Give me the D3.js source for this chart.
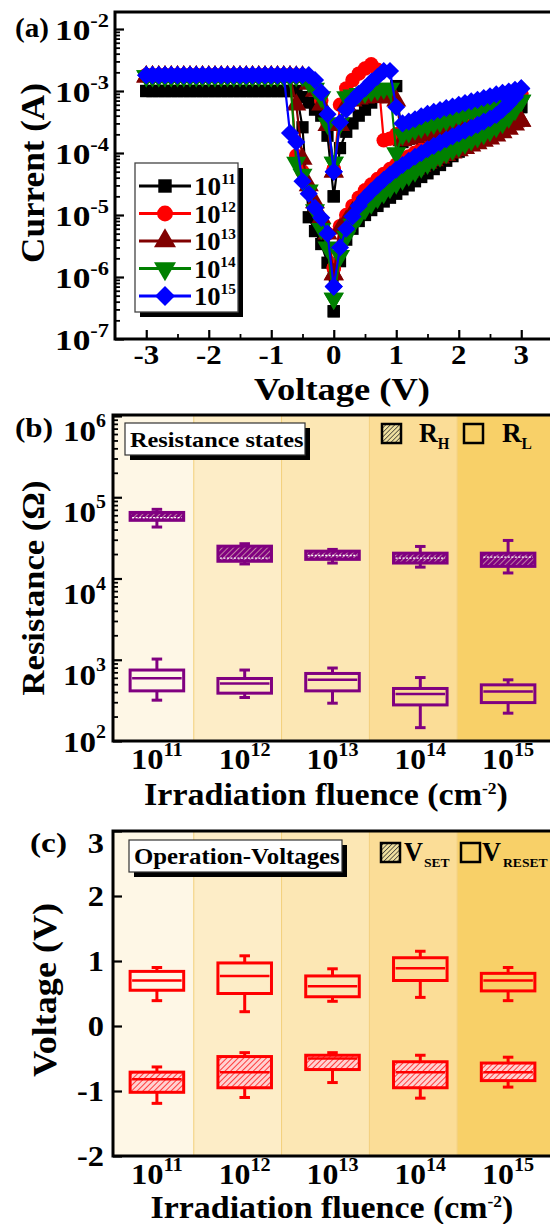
<!DOCTYPE html>
<html><head><meta charset="utf-8">
<script src="https://cdn.jsdelivr.net/npm/d3@7/dist/d3.min.js"></script>
<style>
body{margin:0;background:#fff;}
svg{display:block;font-family:"Liberation Serif","Times New Roman",serif;font-weight:bold;}
</style></head><body>
<svg id="c" width="550" height="1224"></svg>
<script>
// ---------------- Panel (a) data: I-V sweeps, |V| steps ----------------
const voltageSteps = [0,0.1,0.2,0.3,0.4,0.5,0.6,0.7,0.8,0.9,1.0,1.1,1.2,1.3,1.4,1.5,1.6,1.7,1.8,1.9,2.0,2.1,2.2,2.3,2.4,2.5,2.6,2.7,2.8,2.9,3.0];
const fluenceExp = ["11","12","13","14","15"];
const seriesColors = ["#000000","#ff0000","#800000","#008000","#0000ff"];
const seriesShapes = ["square","circle","triangle","triangleDown","diamond"];

// 1e11 (black)
const i11NegSet = [2.8e-7,1.7e-6,3.4e-6,5.5e-6,9.2e-6, 2.6e-4,1e-3,1e-3,1e-3,1e-3, 1e-3,1e-3,1e-3,1e-3,1e-3, 1e-3,1e-3,1e-3,1e-3,1e-3, 1e-3,1e-3,1e-3,1e-3,1e-3, 1e-3,1e-3,1e-3,1e-3,1e-3, 1e-3];
const i11NegRet = [2e-5,1.9e-4,4e-4,5e-4,6.5e-4, 8e-4,1e-3,1e-3,1e-3,1e-3, 1e-3,1e-3,1e-3,1e-3,1e-3, 1e-3,1e-3,1e-3,1e-3,1e-3, 1e-3,1e-3,1e-3,1e-3,1e-3, 1e-3,1e-3,1e-3,1e-3,1e-3, 1e-3];
const i11PosFwd = [2e-5,1.2e-4,2.2e-4,3e-4,4e-4, 5e-4,6.5e-4,8e-4,9e-4,1.05e-3, 1.2e-3,1.5e-4,1.7e-4,1.85e-4,2e-4, 2.2e-4,2.4e-4,2.55e-4,2.7e-4,2.85e-4, 3e-4,3.2e-4,3.45e-4,3.7e-4,3.95e-4, 4.2e-4,4.45e-4,4.7e-4,4.95e-4,5.2e-4, 5.5e-4];
const i11PosRet = [2.8e-7,1.8e-6,4e-6,6e-6,8e-6, 1e-5,1.2e-5,1.4e-5,1.65e-5,1.9e-5, 2.2e-5,2.6e-5,3e-5,3.5e-5,4.1e-5, 4.7e-5,5.5e-5,6.4e-5,7.5e-5,8.9e-5, 1.05e-4,1.24e-4,1.45e-4,1.7e-4,2e-4, 2.4e-4,2.8e-4,3.3e-4,3.9e-4,4.6e-4, 5.5e-4];
// 1e12 (red)
const i12NegSet = [1.4e-6,5e-6,8e-6,1.3e-5,2.5e-5, 5e-5,9e-5,1.8e-3,1.8e-3,1.8e-3, 1.8e-3,1.8e-3,1.8e-3,1.8e-3,1.8e-3, 1.8e-3,1.8e-3,1.8e-3,1.8e-3,1.8e-3, 1.8e-3,1.8e-3,1.8e-3,1.8e-3,1.8e-3, 1.8e-3,1.8e-3,1.8e-3,1.8e-3,1.8e-3, 1.8e-3];
const i12NegRet = [5.5e-5,3e-4,7e-4,1.1e-3,1.5e-3, 1.8e-3,1.8e-3,1.8e-3,1.8e-3,1.8e-3, 1.8e-3,1.8e-3,1.8e-3,1.8e-3,1.8e-3, 1.8e-3,1.8e-3,1.8e-3,1.8e-3,1.8e-3, 1.8e-3,1.8e-3,1.8e-3,1.8e-3,1.8e-3, 1.8e-3,1.8e-3,1.8e-3,1.8e-3,1.8e-3, 1.8e-3];
const i12PosFwd = [5.5e-5,6e-4,1.1e-3,1.5e-3,1.9e-3, 2.3e-3,2.7e-3,2.2e-3,1.6e-4,1.7e-4, 2e-4,2.3e-4,2.6e-4,2.9e-4,3.2e-4, 3.5e-4,3.9e-4,4.3e-4,4.7e-4,5.1e-4, 5.5e-4,5.9e-4,6.3e-4,6.7e-4,7.1e-4, 7.5e-4,7.8e-4,8.1e-4,8.4e-4,8.7e-4, 9e-4];
const i12PosRet = [1.4e-6,6.6e-6,1e-5,1.4e-5,1.9e-5, 2.5e-5,3.1e-5,3.8e-5,4.6e-5,5.5e-5, 6.5e-5,7.6e-5,8.8e-5,1.01e-4,1.15e-4, 1.3e-4,1.46e-4,1.63e-4,1.82e-4,2.02e-4, 2.25e-4,2.5e-4,2.8e-4,3.1e-4,3.45e-4, 3.85e-4,4.3e-4,5e-4,6e-4,7.3e-4, 9e-4];
// 1e13 (maroon)
const i13NegSet = [1.1e-6,5e-6,9e-6,1.6e-5,3e-5, 8e-5,6e-4,1.7e-3,1.7e-3,1.7e-3, 1.7e-3,1.7e-3,1.7e-3,1.7e-3,1.7e-3, 1.7e-3,1.7e-3,1.7e-3,1.7e-3,1.7e-3, 1.7e-3,1.7e-3,1.7e-3,1.7e-3,1.7e-3, 1.7e-3,1.7e-3,1.7e-3,1.7e-3,1.7e-3, 1.7e-3];
const i13NegRet = [5e-5,2.8e-4,6e-4,1e-3,1.3e-3, 1.7e-3,1.7e-3,1.7e-3,1.7e-3,1.7e-3, 1.7e-3,1.7e-3,1.7e-3,1.7e-3,1.7e-3, 1.7e-3,1.7e-3,1.7e-3,1.7e-3,1.7e-3, 1.7e-3,1.7e-3,1.7e-3,1.7e-3,1.7e-3, 1.7e-3,1.7e-3,1.7e-3,1.7e-3,1.7e-3, 1.7e-3];
const i13PosFwd = [5e-5,2.8e-4,6e-4,7e-4,7.5e-4, 7.8e-4,8e-4,8e-4,8e-4,7.8e-4, 7e-4,1.6e-4,1.7e-4,1.8e-4,1.9e-4, 2e-4,2.08e-4,2.16e-4,2.24e-4,2.32e-4, 2.4e-4,2.5e-4,2.6e-4,2.7e-4,2.8e-4, 2.9e-4,2.98e-4,3.06e-4,3.14e-4,3.22e-4, 3.3e-4];
const i13PosRet = [1.1e-6,6e-6,8e-6,1.1e-5,1.4e-5, 1.7e-5,2.1e-5,2.5e-5,2.9e-5,3.4e-5, 3.9e-5,4.4e-5,5e-5,5.6e-5,6.2e-5, 6.9e-5,7.6e-5,8.4e-5,9.2e-5,1.01e-4, 1.1e-4,1.2e-4,1.31e-4,1.43e-4,1.56e-4, 1.7e-4,1.9e-4,2.15e-4,2.45e-4,2.85e-4, 3.3e-4];
// 1e14 (green)
const i14NegSet = [4.5e-7,3e-6,6e-6,1.2e-5,2.5e-5, 4.5e-5,7e-5,1.75e-3,1.75e-3,1.75e-3, 1.75e-3,1.75e-3,1.75e-3,1.75e-3,1.75e-3, 1.75e-3,1.75e-3,1.75e-3,1.75e-3,1.75e-3, 1.75e-3,1.75e-3,1.75e-3,1.75e-3,1.75e-3, 1.75e-3,1.75e-3,1.75e-3,1.75e-3,1.75e-3, 1.75e-3];
const i14NegRet = [7e-5,3e-4,8e-4,1.1e-3,1.4e-3, 1.75e-3,1.75e-3,1.75e-3,1.75e-3,1.75e-3, 1.75e-3,1.75e-3,1.75e-3,1.75e-3,1.75e-3, 1.75e-3,1.75e-3,1.75e-3,1.75e-3,1.75e-3, 1.75e-3,1.75e-3,1.75e-3,1.75e-3,1.75e-3, 1.75e-3,1.75e-3,1.75e-3,1.75e-3,1.75e-3, 1.75e-3];
const i14PosFwd = [7e-5,3e-4,8e-4,8.5e-4,9e-4, 9.5e-4,1e-3,1.05e-3,1.1e-3,1.1e-3, 1e-4,2e-4,2.2e-4,2.4e-4,2.6e-4, 2.8e-4,3e-4,3.2e-4,3.4e-4,3.7e-4, 4e-4,4.3e-4,4.6e-4,4.9e-4,5.2e-4, 5.5e-4,5.8e-4,6.1e-4,6.4e-4,6.7e-4, 7e-4];
const i14PosRet = [4.5e-7,2.2e-6,4.5e-6,7e-6,9.5e-6, 1.25e-5,1.55e-5,1.9e-5,2.3e-5,2.75e-5, 3.25e-5,3.8e-5,4.4e-5,5.1e-5,5.9e-5, 6.8e-5,7.8e-5,8.9e-5,1.01e-4,1.14e-4, 1.28e-4,1.44e-4,1.62e-4,1.82e-4,2.05e-4, 2.3e-4,2.65e-4,3.1e-4,3.8e-4,5e-4, 7e-4];
// 1e15 (blue)
const i15NegSet = [7e-7,5e-6,9e-6,1.3e-5,2.2e-5, 3.5e-5,1.5e-4,2.1e-4,1.8e-3,1.8e-3, 1.8e-3,1.8e-3,1.8e-3,1.8e-3,1.8e-3, 1.8e-3,1.8e-3,1.8e-3,1.8e-3,1.8e-3, 1.8e-3,1.8e-3,1.8e-3,1.8e-3,1.8e-3, 1.8e-3,1.8e-3,1.8e-3,1.8e-3,1.8e-3, 1.8e-3];
const i15NegRet = [5e-5,4.2e-4,9.5e-4,1.5e-3,1.8e-3, 1.8e-3,1.8e-3,1.8e-3,1.8e-3,1.8e-3, 1.8e-3,1.8e-3,1.8e-3,1.8e-3,1.8e-3, 1.8e-3,1.8e-3,1.8e-3,1.8e-3,1.8e-3, 1.8e-3,1.8e-3,1.8e-3,1.8e-3,1.8e-3, 1.8e-3,1.8e-3,1.8e-3,1.8e-3,1.8e-3, 1.8e-3];
const i15PosFwd = [5e-5,3.1e-4,5e-4,7e-4,9e-4, 1.1e-3,1.4e-3,1.7e-3,2.1e-3,2.1e-3, 5.5e-4,3e-4,3.2e-4,3.5e-4,3.9e-4, 4.3e-4,4.6e-4,4.9e-4,5.3e-4,5.6e-4, 6e-4,6.4e-4,6.8e-4,7.2e-4,7.7e-4, 8.2e-4,8.8e-4,9.3e-4,9.8e-4,1.04e-3, 1.1e-3];
const i15PosRet = [7e-7,3e-6,6e-6,9.5e-6,1.4e-5, 1.9e-5,2.4e-5,3e-5,3.7e-5,4.5e-5, 5.4e-5,6.4e-5,7.5e-5,8.7e-5,1e-4, 1.15e-4,1.3e-4,1.47e-4,1.65e-4,1.85e-4, 2.07e-4,2.3e-4,2.55e-4,2.85e-4,3.2e-4, 3.6e-4,4.1e-4,5e-4,6.2e-4,8e-4, 1.1e-3];

const currentTicks = [1e-7,1e-6,1e-5,1e-4,1e-3,1e-2];
const voltageTicks = [-3,-2,-1,0,1,2,3];

// ---------------- Panel (b) data: resistance box stats ----------------
const rHighLo  = [4.3e4, 1.51e4, 1.55e4, 1.38e4, 1.17e4];
const rHighQ1  = [5.2e4, 1.63e4, 1.72e4, 1.55e4, 1.41e4];
const rHighMed = [5.6e4, 1.78e4, 1.92e4, 1.78e4, 1.83e4];
const rHighQ3  = [6.5e4, 2.5e4, 2.17e4, 2.05e4, 2.05e4];
const rHighHi  = [7.1e4, 2.68e4, 2.28e4, 2.48e4, 2.94e4];
const rLowLo  = [318, 343, 292, 146, 220];
const rLowQ1  = [414, 388, 414, 278, 297];
const rLowMed = [594, 509, 566, 378, 406];
const rLowQ3  = [747, 588, 678, 443, 491];
const rLowHi  = [1020, 747, 791, 604, 566];
const resistanceTicks = [1e2,1e3,1e4,1e5,1e6];

// ---------------- Panel (c) data: operation voltages ----------------
const vResetLo  = [0.39, 0.22, 0.38, 0.44, 0.39];
const vResetQ1  = [0.55, 0.50, 0.45, 0.70, 0.54];
const vResetMed = [0.70, 0.77, 0.61, 0.89, 0.70];
const vResetQ3  = [0.84, 0.97, 0.77, 1.05, 0.81];
const vResetHi  = [0.90, 1.08, 0.88, 1.15, 0.90];
const vSetLo  = [-1.19, -1.10, -0.87, -1.11, -0.94];
const vSetQ1  = [-1.02, -0.95, -0.67, -0.95, -0.84];
const vSetMed = [-0.82, -0.71, -0.50, -0.71, -0.71];
const vSetQ3  = [-0.71, -0.47, -0.45, -0.55, -0.57];
const vSetHi  = [-0.63, -0.41, -0.41, -0.45, -0.48];
const opVoltageTicks = [-2,-1,0,1,2,3];

const bandColors = ["#fef7e6","#fdedc7","#fce7b4","#fbdd97","#f8d068"];

// ---------------- drawing ----------------
const svg = d3.select("#c");
svg.append("rect").attr("width",550).attr("height",1224).attr("fill","#fff");
const defs = svg.append("defs");
function hatch(id, bg, fg, w, sp){
  const p = defs.append("pattern").attr("id",id).attr("width",sp).attr("height",sp)
    .attr("patternUnits","userSpaceOnUse").attr("patternTransform","rotate(45)");
  p.append("rect").attr("width",sp).attr("height",sp).attr("fill",bg);
  p.append("line").attr("x1",0).attr("y1",0).attr("x2",0).attr("y2",sp).attr("stroke",fg).attr("stroke-width",w);
}
hatch("hRed","#ffd2d2","#ff2a2a",1.8,4);
hatch("hPur","#800080","#f4e4c0",1.1,4);
hatch("hLeg","#efe0a0","#222",1.3,3.2);

// text helper: anchored at (x,y), optional rotation, stretched horizontally to a target width
function label(parent, x, y, parts, opt){
  opt = opt || {};
  const g = parent.append("g").attr("transform",`translate(${x},${y})${opt.rotate?` rotate(${opt.rotate})`:""}`);
  const t = g.append("text").attr("text-anchor",opt.anchor||"start").attr("font-size",opt.size);
  parts.forEach(p=>{
    const s = t.append("tspan").text(p.t);
    if(p.dy) s.attr("dy",p.dy);
    if(p.size) s.attr("font-size",p.size);
  });
  if(opt.width){
    const w = t.node().getBBox().width;
    if(w>0) t.attr("transform",`scale(${opt.width/w},1)`);
  } else if(opt.sx){
    t.attr("transform",`scale(${opt.sx},1)`);
  }
  return t;
}
function pow10(base, exp, es, rise){
  return [{t:base},{t:exp,dy:-rise,size:es}];
}

const symTypes = {square:d3.symbolSquare, circle:d3.symbolCircle, triangle:d3.symbolTriangle, triangleDown:d3.symbolTriangle, diamond:d3.symbolSquare};
const symSize = {square:150, circle:165, triangle:175, triangleDown:175, diamond:165};
const symRot = {square:0, circle:0, triangle:0, triangleDown:180, diamond:45};

// ===== Panel (a)
const xA = d3.scaleLinear().domain([-3.5,3.5]).range([115,552.5]);
const yA = d3.scaleLog().domain([1e-7,1e-2]).range([339,29]);
const gA = svg.append("g");

const seriesTable = [
  {neg:i11NegSet, negR:i11NegRet, pos:i11PosFwd, posR:i11PosRet},
  {neg:i12NegSet, negR:i12NegRet, pos:i12PosFwd, posR:i12PosRet},
  {neg:i13NegSet, negR:i13NegRet, pos:i13PosFwd, posR:i13PosRet},
  {neg:i14NegSet, negR:i14NegRet, pos:i14PosFwd, posR:i14PosRet},
  {neg:i15NegSet, negR:i15NegRet, pos:i15PosFwd, posR:i15PosRet}
].map((s,k)=>{
  const pts = [];
  const n = voltageSteps.length;
  for(let i=0;i<n;i++) pts.push([-voltageSteps[i], s.neg[i]]);
  for(let i=n-1;i>=0;i--) pts.push([-voltageSteps[i], s.negR[i]]);
  for(let i=0;i<n;i++) pts.push([voltageSteps[i], s.pos[i]]);
  for(let i=n-1;i>=0;i--) pts.push([voltageSteps[i], s.posR[i]]);
  return {pts, color:seriesColors[k], shape:seriesShapes[k], name:fluenceExp[k]};
});

const lineA = d3.line().x(d=>xA(d[0])).y(d=>yA(d[1]));
seriesTable.forEach(s=>{
  const g = gA.append("g");
  g.append("path").attr("d",lineA(s.pts)).attr("fill","none").attr("stroke",s.color).attr("stroke-width",2.2);
  g.selectAll("path.m").data(s.pts).join("path").attr("class","m")
    .attr("d",d3.symbol().type(symTypes[s.shape]).size(symSize[s.shape]))
    .attr("transform",d=>`translate(${xA(d[0])},${yA(d[1])}) rotate(${symRot[s.shape]})`)
    .attr("fill",s.color);
});

// axes (a)
const minorA = [];
[-7,-6,-5,-4,-3].forEach(e=>{for(let m=2;m<10;m++) minorA.push(m*Math.pow(10,e));});
gA.append("g").attr("transform","translate(115,0)").call(d3.axisLeft(yA).tickValues(currentTicks).tickSize(-9).tickFormat(""))
  .call(g=>g.select(".domain").remove()).selectAll("line").attr("stroke-width",2.2);
gA.append("g").attr("transform","translate(115,0)").call(d3.axisLeft(yA).tickValues(minorA).tickSize(-5).tickFormat(""))
  .call(g=>g.select(".domain").remove()).selectAll("line").attr("stroke-width",1.8);
gA.append("g").attr("transform","translate(0,339)").call(d3.axisBottom(xA).tickValues(voltageTicks).tickSize(-9).tickFormat(""))
  .call(g=>g.select(".domain").remove()).selectAll("line").attr("stroke-width",2.2);
gA.append("g").attr("transform","translate(0,339)").call(d3.axisBottom(xA).tickValues([-2.5,-1.5,-0.5,0.5,1.5,2.5]).tickSize(-5).tickFormat(""))
  .call(g=>g.select(".domain").remove()).selectAll("line").attr("stroke-width",1.8);
gA.append("path").attr("d","M552,12H115V339H552").attr("fill","none").attr("stroke","#000").attr("stroke-width",3);

currentTicks.forEach(v=>{
  label(gA, 109, yA(v)+11, pow10("10", String(Math.round(Math.log10(v))), 19, 13), {anchor:"end", size:30, sx:1.18});
});
voltageTicks.forEach(v=>{
  label(gA, xA(v), 364, [{t:String(v)}], {anchor:"middle", size:28, sx:1.1});
});
label(gA, 342, 400, [{t:"Voltage (V)"}], {anchor:"middle", size:31, width:176});
label(gA, 44, 173, [{t:"Current (A)"}], {anchor:"middle", size:33, width:180, rotate:-90});
label(gA, 15, 37, [{t:"(a)"}], {size:27, width:34});

// legend (a)
const legA = gA.append("g");
legA.append("rect").attr("x",140).attr("y",168).attr("width",103).attr("height",149).attr("fill","#000");
legA.append("rect").attr("x",135).attr("y",163).attr("width",103).attr("height",149).attr("fill","#fff").attr("stroke","#444").attr("stroke-width",1.3);
seriesTable.forEach((s,k)=>{
  const ry = 186 + k*27.5;
  legA.append("line").attr("x1",139).attr("x2",191).attr("y1",ry).attr("y2",ry).attr("stroke",s.color).attr("stroke-width",3);
  legA.append("path").attr("d",d3.symbol().type(symTypes[s.shape]).size(symSize[s.shape]*1.2)())
    .attr("transform",`translate(165,${ry}) rotate(${symRot[s.shape]})`).attr("fill",s.color);
  label(legA, 194, ry+9, pow10("10", s.name, 15, 11), {size:26, width:42});
});

// ===== shared box-plot panel helpers
const xB = d3.scaleLinear().domain([-0.5,4.5]).range([113,552]);
const bandEdges = [-0.5,0.42,1.42,2.42,3.42,4.5];
function bands(g, top, bottom){
  fluenceExp.forEach((c,i)=>{
    g.append("rect").attr("x",xB(bandEdges[i])).attr("y",top)
      .attr("width",xB(bandEdges[i+1])-xB(bandEdges[i])).attr("height",bottom-top).attr("fill",bandColors[i]);
    if(i>0) g.append("line").attr("x1",xB(bandEdges[i])).attr("x2",xB(bandEdges[i])).attr("y1",top).attr("y2",bottom)
      .attr("stroke","#f3cf7a").attr("stroke-width",1);
  });
}
function boxes(g, y, lo, q1, med, q3, hi, color, fill, medColor, medDash){
  fluenceExp.forEach((c,i)=>{
    const cx = xB(i), x0 = xB(i-0.305), x1 = xB(i+0.305), cw = xB(0.06)-xB(0);
    g.append("line").attr("x1",cx).attr("x2",cx).attr("y1",y(hi[i])).attr("y2",y(q3[i])).attr("stroke",color).attr("stroke-width",3);
    g.append("line").attr("x1",cx).attr("x2",cx).attr("y1",y(q1[i])).attr("y2",y(lo[i])).attr("stroke",color).attr("stroke-width",3);
    g.append("line").attr("x1",cx-cw).attr("x2",cx+cw).attr("y1",y(hi[i])).attr("y2",y(hi[i])).attr("stroke",color).attr("stroke-width",3);
    g.append("line").attr("x1",cx-cw).attr("x2",cx+cw).attr("y1",y(lo[i])).attr("y2",y(lo[i])).attr("stroke",color).attr("stroke-width",3);
    g.append("rect").attr("x",x0).attr("y",y(q3[i])).attr("width",x1-x0).attr("height",y(q1[i])-y(q3[i]))
      .attr("fill",fill).attr("stroke",color).attr("stroke-width",3);
    const ml = g.append("line").attr("x1",x0+2).attr("x2",x1-2).attr("y1",y(med[i])).attr("y2",y(med[i]))
      .attr("stroke",medColor).attr("stroke-width",medDash?1.3:2.5);
    if(medDash) ml.attr("stroke-dasharray","2,1.5");
  });
}
function catLabels(g, baseline){
  fluenceExp.forEach((c,i)=>{
    label(g, xB(i), baseline, pow10("10", c, 19, 13), {anchor:"middle", size:30, width:52});
  });
}
function fluenceTitle(g, cx, baseline, w){
  label(g, cx, baseline, [{t:"Irradiation fluence (cm"},{t:"-2",dy:-11,size:16},{t:")",dy:11}], {anchor:"middle", size:31, width:w});
}
function legendBox(g, x, y, w, h, text, fs, tw){
  g.append("rect").attr("x",x+5).attr("y",y+5).attr("width",w).attr("height",h).attr("fill","#000");
  g.append("rect").attr("x",x).attr("y",y).attr("width",w).attr("height",h).attr("fill","#fff").attr("stroke","#333").attr("stroke-width",1.2);
  label(g, x+5, y+h-8, [{t:text}], {size:fs, width:tw});
}

// ===== Panel (b)
const yB = d3.scaleLog().domain([1e2,1e6]).range([741,416]);
const gB = svg.append("g");
bands(gB, 415, 741);
boxes(gB, yB, rHighLo, rHighQ1, rHighMed, rHighQ3, rHighHi, "#800080", "url(#hPur)", "#ffffff", true);
boxes(gB, yB, rLowLo, rLowQ1, rLowMed, rLowQ3, rLowHi, "#800080", "none", "#800080", false);
const minorB = [];
[2,3,4,5].forEach(e=>{for(let m=2;m<10;m++) minorB.push(m*Math.pow(10,e));});
gB.append("g").attr("transform","translate(113,0)").call(d3.axisLeft(yB).tickValues(resistanceTicks).tickSize(-9).tickFormat(""))
  .call(g=>g.select(".domain").remove()).selectAll("line").attr("stroke-width",2.2);
gB.append("g").attr("transform","translate(113,0)").call(d3.axisLeft(yB).tickValues(minorB).tickSize(-5).tickFormat(""))
  .call(g=>g.select(".domain").remove()).selectAll("line").attr("stroke-width",1.8);
gB.append("path").attr("d","M552,415H113V741H552").attr("fill","none").attr("stroke","#000").attr("stroke-width",3);
resistanceTicks.forEach(v=>{
  const cy = Math.min(yB(v)+14, 741);
  label(gB, 106, cy+11, pow10("10", String(Math.round(Math.log10(v))), 18, 14), {anchor:"end", size:30, width:43});
});
catLabels(gB, 769);
fluenceTitle(gB, 326, 805, 364);
label(gB, 44, 588, [{t:"Resistance (Ω)"}], {anchor:"middle", size:32, width:215, rotate:-90});
label(gB, 15, 437, [{t:"(b)"}], {size:27, width:38});
legendBox(gB, 125, 423, 180, 32, "Resistance states", 22, 174);
gB.append("rect").attr("x",382).attr("y",424).attr("width",19).attr("height",19).attr("fill","url(#hLeg)").attr("stroke","#000").attr("stroke-width",2.5);
gB.append("rect").attr("x",464).attr("y",424).attr("width",19).attr("height",19).attr("fill","none").attr("stroke","#000").attr("stroke-width",2.5);
label(gB, 419, 442, [{t:"R"},{t:"H",dy:7,size:16}], {size:28, width:31});
label(gB, 502, 442, [{t:"R"},{t:"L",dy:7,size:16}], {size:28, width:30});

// ===== Panel (c)
const yC = d3.scaleLinear().domain([-2,3]).range([1156,831]);
const gC = svg.append("g");
bands(gC, 831, 1156);
boxes(gC, yC, vResetLo, vResetQ1, vResetMed, vResetQ3, vResetHi, "#ff0000", "none", "#ff0000", false);
boxes(gC, yC, vSetLo, vSetQ1, vSetMed, vSetQ3, vSetHi, "#ff0000", "url(#hRed)", "#ff0000", false);
gC.append("g").attr("transform","translate(113,0)").call(d3.axisLeft(yC).tickValues(opVoltageTicks).tickSize(-9).tickFormat(""))
  .call(g=>g.select(".domain").remove()).selectAll("line").attr("stroke-width",2.2);
gC.append("path").attr("d","M552,831H113V1156H552").attr("fill","none").attr("stroke","#000").attr("stroke-width",3);
opVoltageTicks.forEach(v=>{
  const cy = Math.max(yC(v), 843);
  label(gC, 104, cy+10, [{t:String(v)}], {anchor:"end", size:30, sx:1.08});
});
catLabels(gC, 1184);
fluenceTitle(gC, 332, 1218, 363);
label(gC, 56, 990, [{t:"Voltage (V)"}], {anchor:"middle", size:33, width:174, rotate:-90});
label(gC, 30, 852, [{t:"(c)"}], {size:27, width:37});
legendBox(gC, 129, 840, 213, 32, "Operation-Voltages", 23, 206);
gC.append("rect").attr("x",381).attr("y",843).attr("width",19).attr("height",19).attr("fill","url(#hLeg)").attr("stroke","#000").attr("stroke-width",2.5);
gC.append("rect").attr("x",461).attr("y",843).attr("width",19).attr("height",19).attr("fill","none").attr("stroke","#000").attr("stroke-width",2.5);
label(gC, 404, 861, [{t:"V"}], {size:28, width:19});
label(gC, 424, 867, [{t:"SET"}], {size:13, width:26});
label(gC, 482, 861, [{t:"V"}], {size:28, width:19});
label(gC, 503, 867, [{t:"RESET"}], {size:13, width:45});
</script>
</body></html>
